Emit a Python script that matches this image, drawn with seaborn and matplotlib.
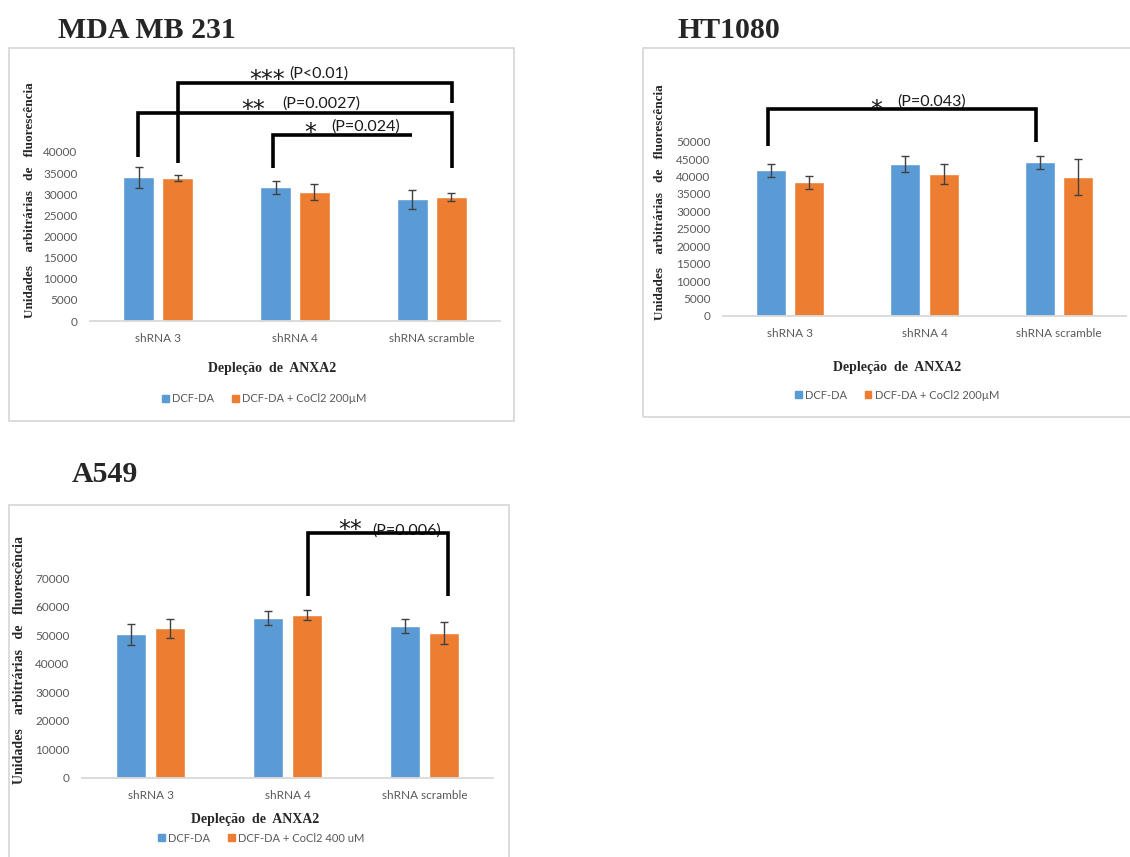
import numpy as np
import pandas as pd
import matplotlib
matplotlib.use("Agg")
import matplotlib.pyplot as plt
from matplotlib.patches import Patch, Rectangle
import seaborn as sns

# ---------------- data ----------------
categories = ["shRNA 3", "shRNA 4", "shRNA scramble"]

mda_series = ["DCF-DA", "DCF-DA + CoCl2 200µM"]
mda_dcf = [34000, 31650, 28800]
mda_coc = [33750, 30600, 29350]
mda_dcf_err = [2500, 1500, 2250]
mda_coc_err = [700, 1900, 900]
mda_ticks = [0, 5000, 10000, 15000, 20000, 25000, 30000, 35000, 40000]
mda_stars = ["***", "**", "*"]
mda_pvals = ["(P<0.01)", "(P=0.0027)", "(P=0.024)"]

ht_series = ["DCF-DA", "DCF-DA + CoCl2 200µM"]
ht_dcf = [41800, 43700, 44100]
ht_coc = [38300, 40800, 39900]
ht_dcf_err = [1800, 2300, 1800]
ht_coc_err = [1850, 2900, 5100]
ht_ticks = [0, 5000, 10000, 15000, 20000, 25000, 30000, 35000, 40000, 45000, 50000]
ht_stars = ["*"]
ht_pvals = ["(P=0.043)"]

a549_series = ["DCF-DA", "DCF-DA + CoCl2 400 uM"]
a549_dcf = [50400, 56150, 53200]
a549_coc = [52400, 57100, 50700]
a549_dcf_err = [3700, 2500, 2450]
a549_coc_err = [3200, 1750, 3800]
a549_ticks = [0, 10000, 20000, 30000, 40000, 50000, 60000, 70000]
a549_stars = ["**"]
a549_pvals = ["(P=0.006)"]

titles = ["MDA MB 231", "HT1080", "A549"]
y_title = "Unidades    arbitrárias   de   fluorescência"
x_title = "Depleção  de  ANXA2"

# ---------------- style ----------------
sns.set_theme(style="white")
plt.rcParams["font.family"] = ["Lato", "DejaVu Sans"]

BLUE = "#5B9BD5"
ORANGE = "#ED7D31"
GRID_GRAY = "#D9D9D9"
TEXT_GRAY = "#595959"
SERIF = ["Liberation Serif", "DejaVu Serif"]

W, H = 1130, 857
fig = plt.figure(figsize=(W / 100, H / 100), dpi=100)


def fx(x):
    return x / W


def fy(y):
    return 1 - y / H


def frame(x0, y0, x1, y1):
    fig.add_artist(Rectangle((fx(x0), fy(y1)), fx(x1) - fx(x0), fy(y0) - fy(y1),
                             transform=fig.transFigure, fill=False,
                             ec=GRID_GRAY, lw=1.3, zorder=0))


def panel(ax_px, zero_px, ref_px, ref_val, top_px, series, dcf, coc, dcf_err,
          coc_err, ticks):
    x0, x1 = ax_px
    ax = fig.add_axes([fx(x0), fy(zero_px), fx(x1) - fx(x0), fy(top_px) - fy(zero_px)])
    df = pd.DataFrame({
        "Grupo": categories * 2,
        "Tratamento": [series[0]] * 3 + [series[1]] * 3,
        "Valor": dcf + coc,
    })
    sns.barplot(data=df, x="Grupo", y="Valor", hue="Tratamento",
                palette=[BLUE, ORANGE], saturation=1, width=0.57, gap=0.21,
                errorbar=None, legend=False, ax=ax, zorder=2)
    for cont, err in zip(ax.containers, [dcf_err, coc_err]):
        xs = [b.get_x() + b.get_width() / 2 for b in cont]
        hs = [b.get_height() for b in cont]
        ax.errorbar(xs, hs, yerr=err, fmt="none", ecolor="#404040",
                    elinewidth=1.0, capsize=3.2, capthick=1.0, zorder=3)
    ymax = ref_val * (zero_px - top_px) / (zero_px - ref_px)
    ax.set_ylim(0, ymax)
    ax.set_xlim(-0.5, 2.5)
    ax.set_yticks(ticks)
    ax.set_yticklabels([str(t) for t in ticks])
    ax.set_xlabel("")
    ax.set_ylabel("")
    for s in ["top", "left", "right"]:
        ax.spines[s].set_visible(False)
    ax.spines["bottom"].set_color(GRID_GRAY)
    ax.spines["bottom"].set_linewidth(1.3)
    ax.tick_params(axis="y", length=0, pad=9, labelsize=8.5, labelcolor=TEXT_GRAY)
    ax.tick_params(axis="x", length=0, pad=8.5, labelsize=8.5, labelcolor=TEXT_GRAY)
    ax.patch.set_alpha(0)
    return ax


def bracket(ax, xl, xr, ytop, yl, yr):
    ax.plot([xl, xl, xr, xr], [yl, ytop, ytop, yr], color="black", lw=2.6,
            solid_joinstyle="miter", solid_capstyle="butt", clip_on=False, zorder=5)


def sig(ax, xs, xp, y, stars, ptext, yp=None):
    # asterisks sit on a baseline shifted so their centre lands on y
    ax.annotate(stars, xy=(xs, y), xytext=(0, -9.5), textcoords="offset points",
                fontsize=17, family="DejaVu Sans",
                ha="left", va="baseline", color="#1a1a1a", annotation_clip=False)
    ax.text(xp, y if yp is None else yp, ptext, fontsize=11.5, ha="left",
            va="center", color="#1a1a1a", clip_on=False)


def legend(cx, cy, series):
    handles = [Patch(color=BLUE, label=series[0]), Patch(color=ORANGE, label=series[1])]
    fig.legend(handles=handles, loc="center", bbox_to_anchor=(fx(cx), fy(cy)),
               ncol=2, frameon=False, fontsize=8, handlelength=0.6,
               handleheight=0.6, handletextpad=0.3, columnspacing=1.6,
               labelcolor=TEXT_GRAY, borderpad=0, borderaxespad=0)


# ---------------- MDA MB 231 ----------------
frame(9, 48, 514, 421)
ax1 = panel((90, 500), 321, 152, 40000, 55, mda_series, mda_dcf, mda_coc,
            mda_dcf_err, mda_coc_err, mda_ticks)
bracket(ax1, 0.142, 2.15, 56260, 37400, 51600)
bracket(ax1, -0.15, 2.15, 49230, 38820, 36210)
bracket(ax1, 0.84, 1.858, 44020, 36210, 44020)
sig(ax1, 0.668, 0.96, 58460, mda_stars[0], mda_pvals[0])
sig(ax1, 0.61, 0.909, 51360, mda_stars[1], mda_pvals[1])
sig(ax1, 1.07, 1.264, 45920, mda_stars[2], mda_pvals[2])
fig.text(fx(58), fy(31), titles[0], family=SERIF, fontweight="bold", fontsize=21.5,
         ha="left", va="center")
fig.text(fx(30), fy(200), y_title, family=SERIF, fontweight="bold", fontsize=9.5,
         rotation=90, ha="center", va="center")
fig.text(fx(272), fy(369), x_title, family=SERIF, fontweight="bold", fontsize=10,
         ha="center", va="center")
legend(264.5, 399, mda_series)

# ---------------- HT1080 ----------------
frame(643, 48, 1140, 417)
ax2 = panel((723, 1126), 316, 141.7, 50000, 55, ht_series, ht_dcf, ht_coc,
            ht_dcf_err, ht_coc_err, ht_ticks)
bracket(ax2, -0.167, 1.83, 59280, 48750, 49980)
sig(ax2, 0.594, 0.796, 61000, ht_stars[0], ht_pvals[0], yp=61460)
fig.text(fx(678), fy(31), titles[1], family=SERIF, fontweight="bold", fontsize=21.5,
         ha="left", va="center")
fig.text(fx(660), fy(202), y_title, family=SERIF, fontweight="bold", fontsize=9.5,
         rotation=90, ha="center", va="center")
fig.text(fx(897), fy(367), x_title, family=SERIF, fontweight="bold", fontsize=10,
         ha="center", va="center")
legend(897, 395, ht_series)

# ---------------- A549 ----------------
frame(9, 505, 509, 880)
ax3 = panel((82, 493), 777.7, 578.3, 70000, 510, a549_series, a549_dcf, a549_coc,
            a549_dcf_err, a549_coc_err, a549_ticks)
sig(ax3, 1.369, 1.617, 89050, a549_stars[0], a549_pvals[0], yp=86600)
bracket(ax3, 1.15, 2.17, 85780, 63880, 63880)
fig.text(fx(72), fy(475), titles[2], family=SERIF, fontweight="bold", fontsize=21.5,
         ha="left", va="center")
fig.text(fx(20), fy(660), y_title, family=SERIF, fontweight="bold", fontsize=10,
         rotation=90, ha="center", va="center")
fig.text(fx(255), fy(820), x_title, family=SERIF, fontweight="bold", fontsize=10,
         ha="center", va="center")
legend(261.5, 838, a549_series)

fig.savefig("out.png", dpi=100, facecolor="white")
